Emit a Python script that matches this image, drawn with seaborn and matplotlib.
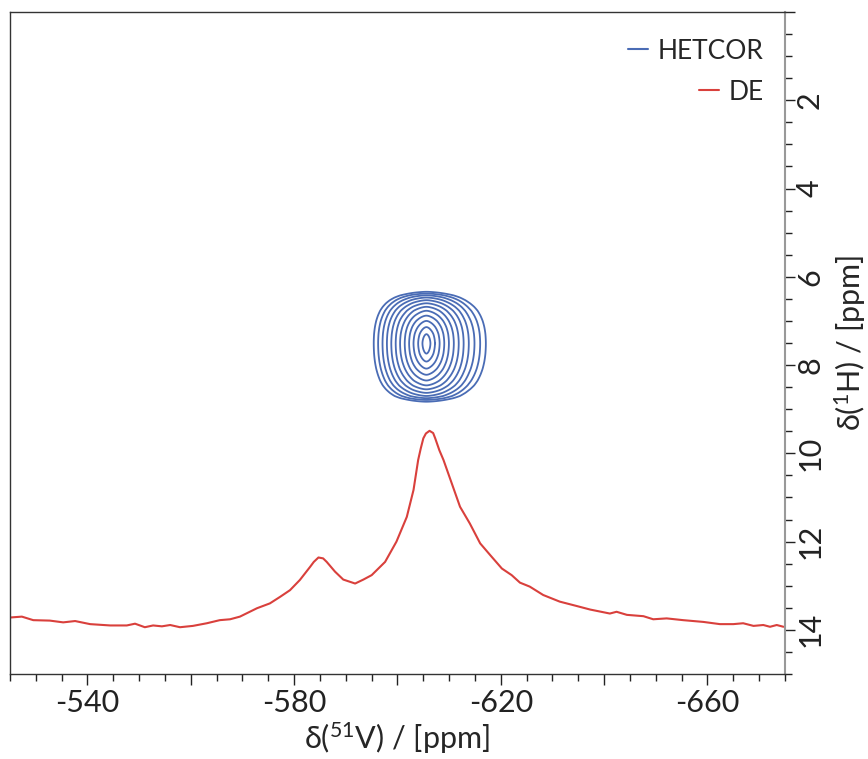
import numpy as np
import pandas as pd
import matplotlib
matplotlib.use("Agg")
import matplotlib.pyplot as plt
import seaborn as sns
from matplotlib.lines import Line2D
from matplotlib.ticker import MultipleLocator, FuncFormatter

# ---------------- data ----------------
# DE spectrum (51V shift, drawn on the 1H scale of the overlay)
de_ppm = [-525, -527.3, -529.5, -532.7, -535.3, -537.6, -540.5, -544.4, -547.6, -549.2,
          -551.1, -552.7, -554.4, -556.0, -557.9, -560.4, -563.1, -565.6, -567.6, -569.5,
          -572.8, -575.3, -577.3, -579.2, -581.1, -583.1, -583.8, -584.7, -585.6, -586.3,
          -587.9, -589.5, -591.8, -593.4, -595.0, -597.6, -599.8, -601.8, -603.1, -604.0,
          -604.5, -605.0, -605.5, -606.2, -606.9, -607.3, -608.1, -608.9, -610.5, -612.1,
          -614.0, -616.0, -617.9, -620.2, -622.1, -623.7, -625.6, -628.2, -631.4, -634.7,
          -637.3, -641.1, -642.4, -644.4, -647.6, -649.5, -652.1, -655.3, -659.2, -662.4,
          -665.0, -666.9, -668.9, -670.8, -672.1, -673.4, -674.7]
de_level = [13.72, 13.70, 13.78, 13.79, 13.83, 13.80, 13.87, 13.90, 13.90, 13.86,
            13.94, 13.90, 13.92, 13.89, 13.94, 13.91, 13.85, 13.78, 13.76, 13.70,
            13.51, 13.40, 13.25, 13.10, 12.87, 12.57, 12.46, 12.36, 12.38, 12.46,
            12.68, 12.86, 12.95, 12.86, 12.76, 12.46, 12.00, 11.44, 10.83, 10.15,
            9.89, 9.66, 9.55, 9.49, 9.54, 9.66, 9.93, 10.15, 10.68, 11.21,
            11.59, 12.04, 12.30, 12.61, 12.76, 12.93, 13.02, 13.21, 13.36, 13.46,
            13.54, 13.63, 13.59, 13.66, 13.69, 13.76, 13.74, 13.78, 13.82, 13.87,
            13.87, 13.85, 13.91, 13.89, 13.93, 13.89, 13.93]

# HETCOR cross peak: centre and distances (ppm) of each contour from the centre
hetcor_center_v = -605.6
hetcor_center_h = 7.51
contour_index = [0, 1, 2, 3, 4, 5, 6, 7, 8, 9, 10, 11, 12, 13]
offset_left = [0, 0.77, 1.6, 2.5, 3.35, 4.2, 5.1, 5.95, 6.8, 7.65, 8.5, 9.35, 10.2, 11.0]
offset_right = [0, 0.77, 1.65, 2.55, 3.45, 4.35, 5.3, 6.25, 7.2, 8.2, 9.3, 10.4, 11.5, 12.6]
offset_top = [0, 0.21, 0.37, 0.51, 0.63, 0.74, 0.83, 0.91, 0.98, 1.04, 1.09, 1.13, 1.17, 1.20]
offset_bottom = [0, 0.23, 0.41, 0.57, 0.71, 0.84, 0.95, 1.04, 1.12, 1.19, 1.24, 1.28, 1.32, 1.36]
hetcor_levels = [1, 2, 3, 4, 5, 6, 7, 8, 9, 10, 11, 12]

x_ticks_labeled = [-540, -580, -620, -660]
series_names = ["HETCOR", "DE"]

# ---------------- style ----------------
blue = "#4a6cb5"
red = "#d9403c"
FONT = "Lato"

sns.set_theme(style="white")
plt.rcParams["font.family"] = [FONT, "DejaVu Sans"]
plt.rcParams["mathtext.fontset"] = "custom"
plt.rcParams["mathtext.rm"] = FONT
plt.rcParams["mathtext.it"] = FONT

fig = plt.figure(figsize=(8.68, 7.59), dpi=100)
ax = fig.add_axes([10 / 868, 1 - 674 / 759, 775 / 868, 662 / 759])

# DE line
df = pd.DataFrame({"v": de_ppm, "h": de_level})
sns.lineplot(data=df, x="v", y="h", ax=ax, color=red, linewidth=1.5,
             sort=False, estimator=None)

# HETCOR contours
gv = np.linspace(-625, -588, 741)
gh = np.linspace(5.6, 9.4, 381)
V, H = np.meshgrid(gv, gh)
dv = V - hetcor_center_v
dh = H - hetcor_center_h
kx = np.where(dv >= 0, np.interp(dv, offset_left, contour_index),
              np.interp(-dv, offset_right, contour_index))
ky = np.where(dh <= 0, np.interp(-dh, offset_top, contour_index),
              np.interp(dh, offset_bottom, contour_index))
K = (kx ** 1.8 + ky ** 1.8) ** (1 / 1.8)
ax.contour(V, H, K, levels=hetcor_levels, colors=blue, linewidths=1.3)

# axes
ax.set_xlim(-525, -675)
ax.set_ylim(15, 0)
ax.set_xlabel(r"δ($\mathregular{^{51}}$V) / [ppm]", fontsize=22, labelpad=2)
ax.yaxis.tick_right()
ax.yaxis.set_label_position("right")
ax.set_ylabel(r"δ($\mathregular{^{1}}$H) / [ppm]", fontsize=22, labelpad=6)

ax.xaxis.set_major_locator(MultipleLocator(20))
ax.xaxis.set_minor_locator(MultipleLocator(5))
ax.xaxis.set_major_formatter(FuncFormatter(
    lambda v, p: f"{int(round(v))}" if int(round(v)) in x_ticks_labeled else ""))
ax.yaxis.set_major_locator(MultipleLocator(2))
ax.yaxis.set_minor_locator(MultipleLocator(0.5))
ax.yaxis.set_major_formatter(FuncFormatter(lambda v, p: f"{int(round(v))}" if v > 0.5 else ""))

ax.tick_params(axis="x", which="both", direction="out", bottom=True, top=False,
               colors="#222222", labelsize=22)
ax.tick_params(axis="x", which="major", length=8, width=1, pad=3)
ax.tick_params(axis="x", which="minor", length=5, width=1)
ax.tick_params(axis="y", which="both", direction="out", right=True, left=False,
               colors="#222222", labelsize=22)
ax.tick_params(axis="y", which="major", length=7, width=1, pad=1)
ax.tick_params(axis="y", which="minor", length=5, width=1)
for lab in ax.get_yticklabels():
    lab.set_rotation(90)
    lab.set_va("center")
    lab.set_ha("left")

for side, sp in ax.spines.items():
    sp.set_visible(True)
    sp.set_linewidth(1.0)
    sp.set_color("#333333")
ax.spines["right"].set_color("#999999")
ax.spines["right"].set_linewidth(1.5)

# legends (right aligned text, handle next to text)
h1 = Line2D([], [], color=blue, lw=1.5)
h2 = Line2D([], [], color=red, lw=1.5)
leg1 = ax.legend([h1], [series_names[0]], loc="center right",
                 bbox_to_anchor=(0.972, 0.941), frameon=False, fontsize=19,
                 handlelength=0.75, handletextpad=0.35, borderpad=0, borderaxespad=0)
ax.add_artist(leg1)
ax.legend([h2], [series_names[1]], loc="center right",
          bbox_to_anchor=(0.972, 0.879), frameon=False, fontsize=19,
          handlelength=0.75, handletextpad=0.35, borderpad=0, borderaxespad=0)

fig.savefig("out.png", dpi=100)
